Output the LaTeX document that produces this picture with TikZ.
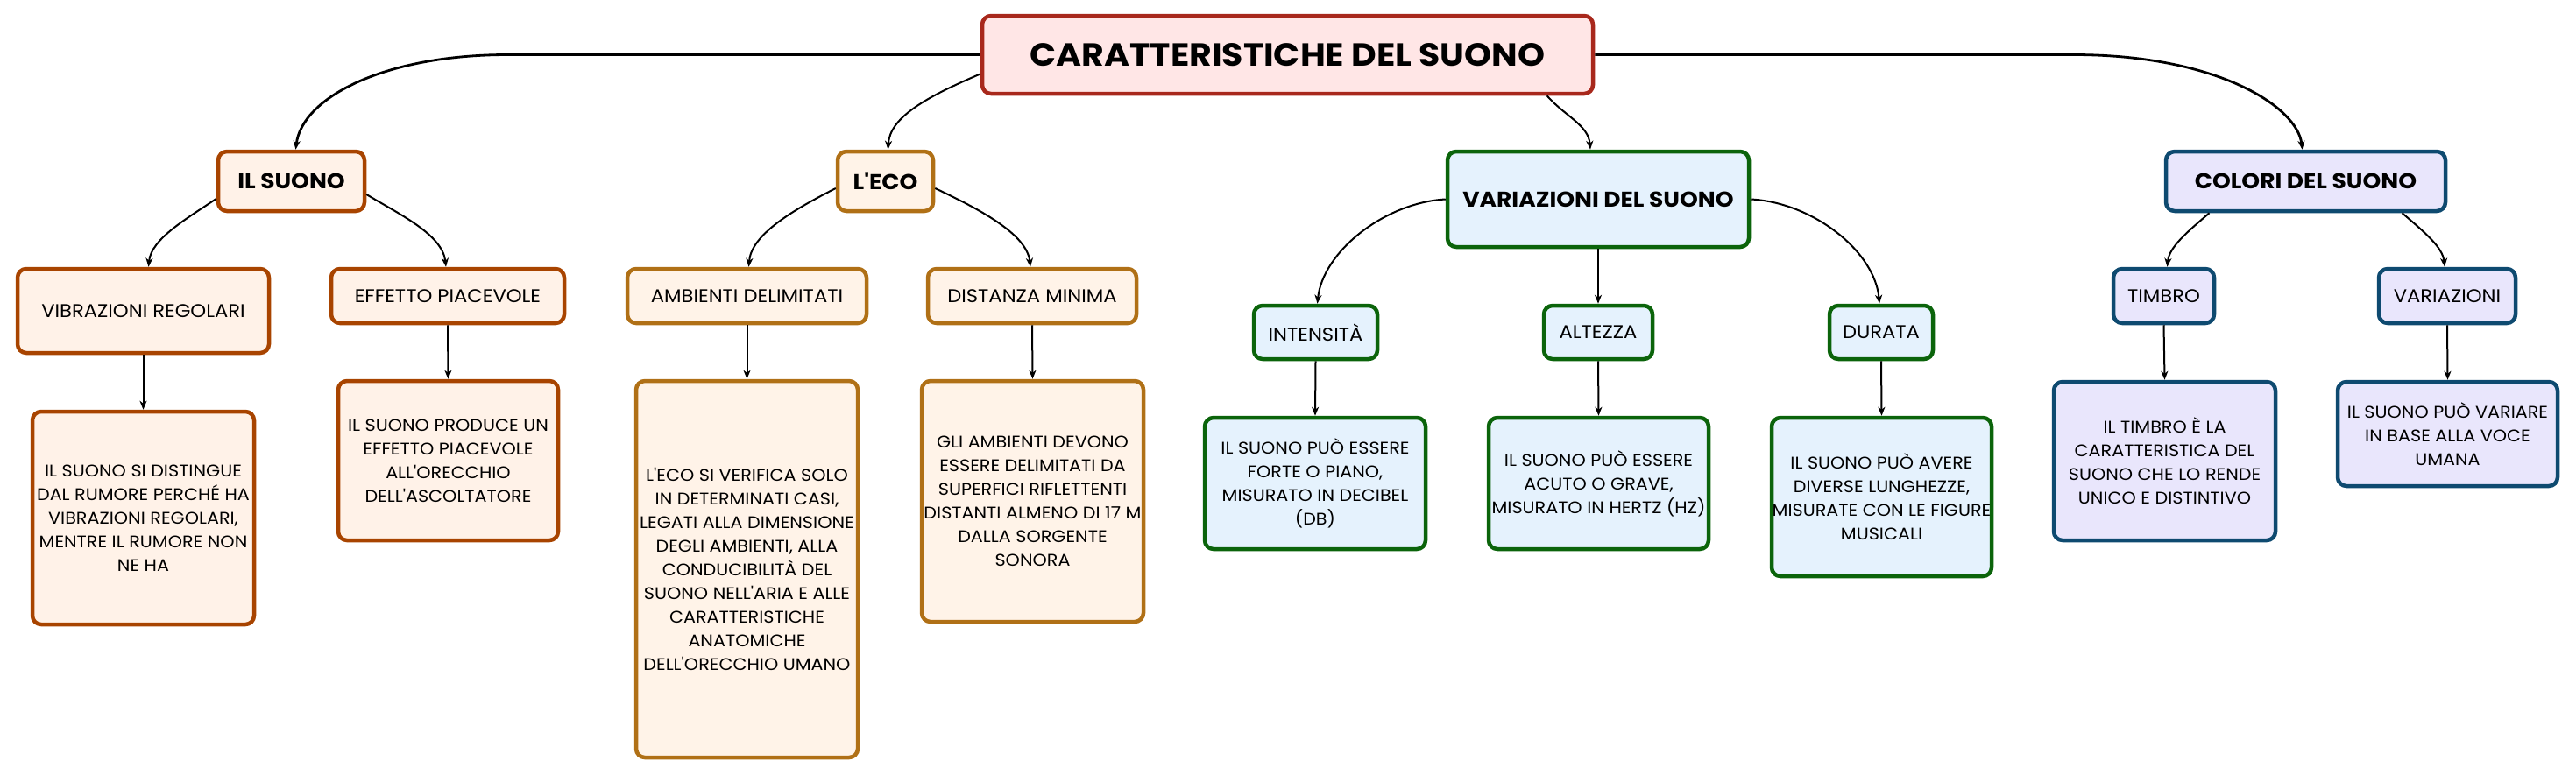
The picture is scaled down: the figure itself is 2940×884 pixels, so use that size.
\documentclass[tikz,border=0pt]{standalone}
\usepackage{fontspec}
\setmainfont{Poppins}[FakeStretch=1.08, Ligatures=TeXOff]
\usetikzlibrary{arrows.meta}
\definecolor{rootB}{HTML}{A8281C}
\definecolor{rootF}{HTML}{FFE6E6}
\definecolor{orB}{HTML}{A84400}
\definecolor{orF}{HTML}{FFF2E8}
\definecolor{goB}{HTML}{B07016}
\definecolor{goF}{HTML}{FFF3E8}
\definecolor{grB}{HTML}{0B640B}
\definecolor{grF}{HTML}{E5F2FD}
\definecolor{blB}{HTML}{0E4A70}
\definecolor{blF}{HTML}{E9E6FC}
\tikzset{
  box/.style={draw, rounded corners=10pt, line width=4.5pt, inner sep=0pt, align=center, text=black},
  rootbox/.style={box, draw=rootB, fill=rootF, font=\fontsize{36.5}{40}\selectfont\bfseries},
  headbox/.style={box, font=\fontsize{24.5}{28}\selectfont\bfseries},
  subbox/.style={box, font=\fontsize{21}{26}\selectfont},
  leafbox/.style={box, font=\fontsize{19.2}{27}\selectfont},
  orange/.style={draw=orB, fill=orF},
  gold/.style={draw=goB, fill=goF},
  green/.style={draw=grB, fill=grF},
  blue/.style={draw=blB, fill=blF},
  conn/.style={draw=black, line width=2pt, -{Stealth[length=10pt,width=8pt,inset=3pt]}},
  mainconn/.style={conn, line width=2.8pt},
}
\begin{document}
\begin{tikzpicture}[x=1pt,y=-1pt]
\useasboundingbox (0,0) rectangle (2940,884);
% root
\node[rootbox, minimum width=697pt, minimum height=89pt] (root) at (1469.5,62.5) {CARATTERISTICHE DEL SUONO};
% level 1
\node[headbox, orange, minimum width=167pt, minimum height=68pt] (ilsuono) at (332.5,207) {IL SUONO};
\node[headbox, gold, minimum width=109pt, minimum height=68pt] (leco) at (1010.5,207) {L'ECO};
\node[headbox, green, minimum width=344pt, minimum height=109pt] (var) at (1824,227.5) {VARIAZIONI DEL SUONO};
\node[headbox, blue, minimum width=319pt, minimum height=68pt] (colori) at (2631.5,207) {COLORI DEL SUONO};
% level 2
\node[subbox, orange, minimum width=287pt, minimum height=96pt] (vib) at (163.5,355) {VIBRAZIONI REGOLARI};
\node[subbox, orange, minimum width=266pt, minimum height=62pt] (eff) at (511,338) {EFFETTO PIACEVOLE};
\node[subbox, gold, minimum width=273pt, minimum height=62pt] (amb) at (852.5,338) {AMBIENTI DELIMITATI};
\node[subbox, gold, minimum width=238pt, minimum height=62pt] (dist) at (1178,338) {DISTANZA MINIMA};
\node[subbox, green, minimum width=141pt, minimum height=61pt] (int) at (1501.5,379.5) {INTENSITÀ};
\node[subbox, green, minimum width=124pt, minimum height=61pt] (alt) at (1824,379.5) {ALTEZZA};
\node[subbox, green, minimum width=118pt, minimum height=61pt] (dur) at (2147,379.5) {DURATA};
\node[subbox, blue, minimum width=115pt, minimum height=62pt] (timbro) at (2469.5,338) {TIMBRO};
\node[subbox, blue, minimum width=156pt, minimum height=62pt] (variaz) at (2793,338) {VARIAZIONI};
% leaves
\node[leafbox, orange, minimum width=253pt, minimum height=243pt] (l1) at (163.5,591.5) {IL SUONO SI DISTINGUE\\DAL RUMORE PERCHÉ HA\\VIBRAZIONI REGOLARI,\\MENTRE IL RUMORE NON\\NE HA};
\node[leafbox, orange, minimum width=251pt, minimum height=182pt] (l2) at (511.5,526) {IL SUONO PRODUCE UN\\EFFETTO PIACEVOLE\\ALL'ORECCHIO\\DELL'ASCOLTATORE};
\node[leafbox, gold, minimum width=253pt, minimum height=430pt] (l3) at (852.5,650) {L'ECO SI VERIFICA SOLO\\IN DETERMINATI CASI,\\LEGATI ALLA DIMENSIONE\\DEGLI AMBIENTI, ALLA\\CONDUCIBILITÀ DEL\\SUONO NELL'ARIA E ALLE\\CARATTERISTICHE\\ANATOMICHE\\DELL'ORECCHIO UMANO};
\node[leafbox, gold, minimum width=253pt, minimum height=275pt] (l4) at (1178.5,572.5) {GLI AMBIENTI DEVONO\\ESSERE DELIMITATI DA\\SUPERFICI RIFLETTENTI\\DISTANTI ALMENO DI 17 M\\DALLA SORGENTE\\SONORA};
\node[leafbox, green, minimum width=252pt, minimum height=150pt] (g1) at (1501,552) {IL SUONO PUÒ ESSERE\\FORTE O PIANO,\\MISURATO IN DECIBEL\\(DB)};
\node[leafbox, green, minimum width=251pt, minimum height=150pt] (g2) at (1824.5,552) {IL SUONO PUÒ ESSERE\\ACUTO O GRAVE,\\MISURATO IN HERTZ (HZ)};
\node[leafbox, green, minimum width=251pt, minimum height=181pt] (g3) at (2147.5,567.5) {IL SUONO PUÒ AVERE\\DIVERSE LUNGHEZZE,\\MISURATE CON LE FIGURE\\MUSICALI};
\node[leafbox, blue, minimum width=253pt, minimum height=181pt] (b1) at (2470.5,526.5) {IL TIMBRO È LA\\CARATTERISTICA DEL\\SUONO CHE LO RENDE\\UNICO E DISTINTIVO};
\node[leafbox, blue, minimum width=251pt, minimum height=119pt] (b2) at (2793.5,495.5) {IL SUONO PUÒ VARIARE\\IN BASE ALLA VOCE\\UMANA};
% root connectors
\draw[mainconn] (root.west) -- ++(-539,0) .. controls +(-142,0) and +(7,-59) .. ([xshift=5pt]ilsuono.north);
\draw[conn] ([yshift=-22pt]root.west) .. controls +(-61,26) and +(2,-37) .. ([xshift=3pt]leco.north);
\draw[conn] ([xshift=296pt]root.south) .. controls +(20,23) and +(-2,-28) .. ([xshift=-9pt]var.north);
\draw[mainconn] (root.east) -- ++(546,0) .. controls +(166,0) and +(-5,-48) .. ([xshift=-4pt]colori.north);
% level1 -> level2
\draw[conn] ([yshift=-20pt]ilsuono.west) .. controls +(-34,23) and +(3,-32) .. ([xshift=6pt]vib.north);
\draw[conn] ([yshift=-15pt]ilsuono.east) .. controls +(38,23) and +(-4,-37) .. ([xshift=-2pt]eff.north);
\draw[conn] ([yshift=-8pt]leco.west) .. controls +(-49,25) and +(3,-37) .. ([xshift=2pt]amb.north);
\draw[conn] ([yshift=-8pt]leco.east) .. controls +(53,25) and +(-4,-37) .. ([xshift=-2pt]dist.north);
\draw[conn] (var.west) .. controls +(-70,4) and +(6,-59) .. ([xshift=2pt]int.north);
\draw[conn] (var.south) -- (alt.north);
\draw[conn] (var.east) .. controls +(72,4) and +(-5,-59) .. ([xshift=-2pt]dur.north);
\draw[conn] ([xshift=-110pt]colori.south) .. controls +(-27,23) and +(2,-22) .. ([xshift=4pt]timbro.north);
\draw[conn] ([xshift=110pt]colori.south) .. controls +(27,23) and +(-2,-22) .. ([xshift=-3pt]variaz.north);
% level2 -> leaves
\draw[conn] (vib.south) -- (l1.north);
\draw[conn] (eff.south) -- (l2.north);
\draw[conn] (amb.south) -- (l3.north);
\draw[conn] (dist.south) -- (l4.north);
\draw[conn] (int.south) -- (g1.north);
\draw[conn] (alt.south) -- (g2.north);
\draw[conn] (dur.south) -- (g3.north);
\draw[conn] (timbro.south) -- (b1.north);
\draw[conn] (variaz.south) -- (b2.north);
\end{tikzpicture}
\end{document}
